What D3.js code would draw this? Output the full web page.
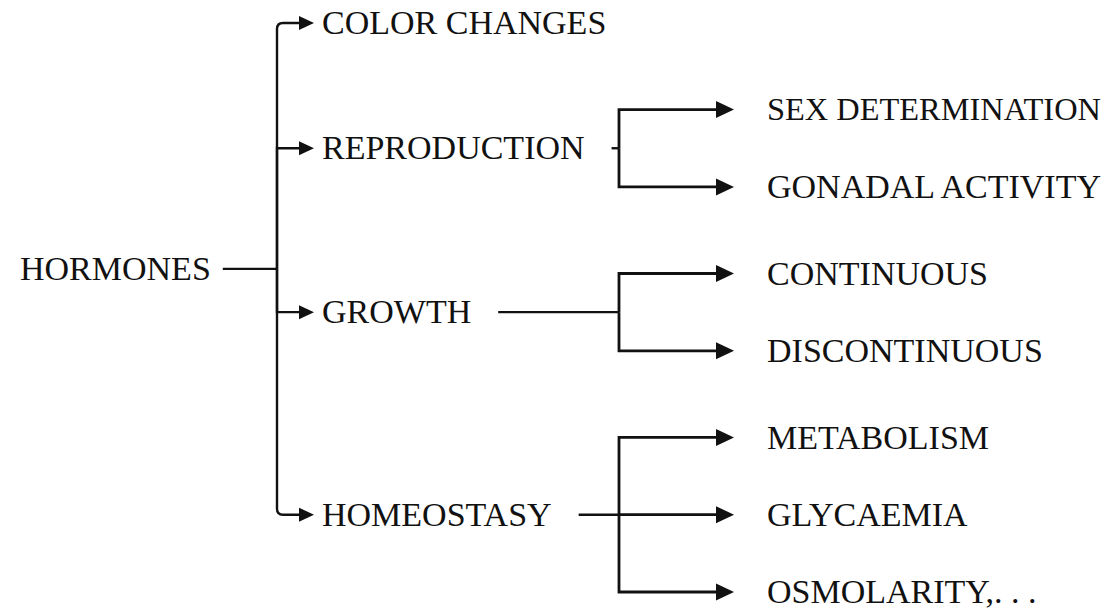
<!DOCTYPE html>
<html>
<head>
<meta charset="utf-8">
<script src="https://cdn.jsdelivr.net/npm/d3@7"></script>
<style>
	html, body { margin: 0; padding: 0; background: #fff; }
	svg { display: block; }
	.label { font-family: "Liberation Serif", serif; font-size: 34px; fill: #111; }
	.wire { fill: none; stroke: #111; stroke-linecap: butt; }
	.head { fill: #111; stroke: none; }
</style>
</head>
<body>
<div id="chart"></div>
<script>
(function () {
	"use strict";

	var rootName = "HORMONES";
	var branchNames = ["COLOR CHANGES", "REPRODUCTION", "GROWTH", "HOMEOSTASY"];
	var leafNames = [
		[],
		["SEX DETERMINATION", "GONADAL ACTIVITY"],
		["CONTINUOUS", "DISCONTINUOUS"],
		["METABOLISM", "GLYCAEMIA", "OSMOLARITY,. . ."]
	];

	var width = 1113, height = 614;
	var fontSize = 34;

	var tree = {
		name: rootName,
		children: branchNames.map(function (name, i) {
			var kids = leafNames[i].map(function (n) { return { name: n }; });
			return kids.length ? { name: name, children: kids } : { name: name };
		})
	};

	var root = d3.hierarchy(tree);
	d3.cluster()
		.size([1, 1])
		.separation(function (a, b) { return a.parent === b.parent ? 1 : 1.12; })(root);

	// root sits halfway between its first and last branch
	root.x = d3.mean(d3.extent(root.children, function (d) { return d.x; }));

	var y = d3.scaleLinear()
		.domain(d3.extent(root.leaves(), function (d) { return d.x; }))
		.range([23, 592]);

	// columns by depth
	var labelX = d3.scaleOrdinal().domain([0, 1, 2]).range([20, 322, 767]);
	var trunkX = d3.scaleOrdinal().domain([0, 1]).range([277, 619]);
	var tipGap = d3.scaleOrdinal().domain([1, 2]).range([8, 33]);
	var headLen = d3.scaleOrdinal().domain([1, 2]).range([15, 18]);
	var headHalf = d3.scaleOrdinal().domain([1, 2]).range([7, 8.5]);
	var leadGap = d3.scaleOrdinal().domain([0, 1]).range([12, 27]);
	var wireWidth = d3.scaleOrdinal().domain([1, 2]).range([2.4, 2.8]);

	var svg = d3.select('#chart')
		.append('svg')
		.attr('width', width)
		.attr('height', height);

	svg.append('g')
		.selectAll('text')
		.data(root.descendants())
		.join('text')
		.classed('label', true)
		.attr('x', function (d) { return labelX(d.depth); })
		.attr('y', function (d) { return y(d.x); })
		.attr('dy', '0.33em')
		.text(function (d) { return d.data.name; })
		.each(function (d) {
			var x0 = labelX(d.depth);
			var room = width - 12 - x0;
			var len = this.getComputedTextLength();
			if (len > room) {
				// shrink labels that would run off the right edge
				d3.select(this).style('font-size', (fontSize * room / len) + 'px');
				len = this.getComputedTextLength();
			}
			d.textEnd = x0 + len;
		});

	var wires = svg.append('g');
	var parents = root.descendants().filter(function (d) { return d.children; });

	// short lead from a parent's label to its trunk
	wires.selectAll('line')
		.data(parents)
		.join('line')
		.classed('wire', true)
		.attr('x1', function (d) { return d.textEnd + leadGap(d.depth); })
		.attr('x2', function (d) { return trunkX(d.depth); })
		.attr('y1', function (d) { return y(d.x); })
		.attr('y2', function (d) { return y(d.x); })
		.attr('stroke-width', 2.4);

	function tipOf(t) {
		return labelX(t.depth) - tipGap(t.depth);
	}

	wires.selectAll('path')
		.data(root.links())
		.join('path')
		.classed('wire', true)
		.attr('stroke-width', function (l) { return wireWidth(l.target.depth); })
		.attr('d', function (l) {
			var s = l.source, t = l.target;
			var tx = trunkX(s.depth), sy = y(s.x), ty = y(t.x);
			var ex = tipOf(t) - headLen(t.depth) + 1;
			var kids = s.children;
			var outer = s.depth === 0 && (t === kids[0] || t === kids[kids.length - 1]);
			var r = outer ? 6 : 0;
			var dir = ty < sy ? -1 : 1;
			var p = d3.path();
			p.moveTo(tx, sy);
			if (Math.abs(ty - sy) > 0.5) {
				p.lineTo(tx, ty - dir * r);
				p.quadraticCurveTo(tx, ty, tx + r, ty);
			} else {
				p.lineTo(tx, ty);
			}
			p.lineTo(ex, ty);
			return p.toString();
		});

	svg.append('g')
		.selectAll('path')
		.data(root.descendants().slice(1))
		.join('path')
		.classed('head', true)
		.attr('d', function (t) {
			var tip = tipOf(t), ty = y(t.x);
			var len = headLen(t.depth), half = headHalf(t.depth);
			return 'M' + tip + ',' + ty +
				'L' + (tip - len) + ',' + (ty - half) +
				'L' + (tip - len) + ',' + (ty + half) + 'Z';
		});
}());
</script>
</body>
</html>
